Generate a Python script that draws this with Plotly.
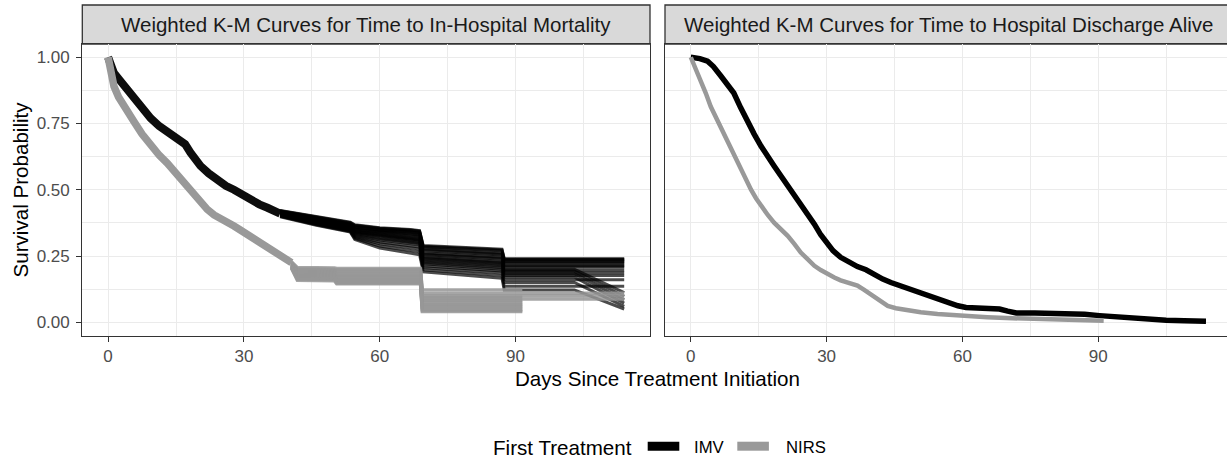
import plotly.graph_objects as go

W, H = 1227, 461
FONT = "Liberation Sans, Arial, sans-serif"

# ---------------- DATA ----------------
groups = ["IMV", "NIRS"]
group_colors = {"IMV": "#000000", "NIRS": "#999999"}
panel_titles = ["Weighted K-M Curves for Time to In-Hospital Mortality",
                "Weighted K-M Curves for Time to Hospital Discharge Alive"]
x_ticks = [0, 30, 60, 90]
x_minor = [15, 45, 75, 105]
y_ticks = [0, 0.25, 0.5, 0.75, 1.0]
y_minor = [0.125, 0.375, 0.625, 0.875]

# Left panel: IMV shared early part (all imputations overlap)
mort_imv_head_t = [0, 0.5, 1.3, 2.5, 4.2, 5.7, 7.5, 9.4, 11.3, 13.1, 14.6, 16.0, 17.0,
                   18.2, 19.3, 20.4, 22.2, 24.1, 26.0, 27.8, 29.6, 31.5, 33.4, 35.2, 36.8, 38.0]
mort_imv_head_s = [1.0, 0.965, 0.94, 0.915, 0.877, 0.85, 0.81, 0.77, 0.74, 0.718, 0.70, 0.69, 0.672,
                   0.64, 0.615, 0.59, 0.562, 0.535, 0.515, 0.50, 0.48, 0.46, 0.445, 0.432, 0.42, 0.41]
# Left panel: IMV individual curves after day 38
mort_imv_tail_t = [38, 46, 53.5, 54.5, 60, 66.8, 68.8, 69.6, 87.0, 87.5, 103, 114]
mort_imv_tails = [
    [0.422, 0.400, 0.378, 0.368, 0.357, 0.350, 0.346, 0.290, 0.276, 0.240, 0.240, 0.240],
    [0.421, 0.398, 0.376, 0.366, 0.355, 0.348, 0.344, 0.287, 0.273, 0.238, 0.238, 0.238],
    [0.420, 0.397, 0.374, 0.364, 0.354, 0.346, 0.342, 0.284, 0.270, 0.236, 0.236, 0.236],
    [0.418, 0.394, 0.370, 0.360, 0.350, 0.342, 0.338, 0.278, 0.262, 0.230, 0.230, 0.230],
    [0.417, 0.393, 0.369, 0.358, 0.348, 0.340, 0.336, 0.274, 0.258, 0.227, 0.227, 0.227],
    [0.416, 0.391, 0.367, 0.356, 0.346, 0.338, 0.333, 0.270, 0.254, 0.224, 0.224, 0.224],
    [0.414, 0.388, 0.364, 0.352, 0.342, 0.333, 0.328, 0.262, 0.246, 0.216, 0.216, 0.216],
    [0.413, 0.386, 0.362, 0.350, 0.340, 0.330, 0.325, 0.258, 0.242, 0.212, 0.212, 0.212],
    [0.412, 0.385, 0.361, 0.348, 0.338, 0.328, 0.322, 0.255, 0.238, 0.208, 0.208, 0.208],
    [0.410, 0.382, 0.358, 0.344, 0.334, 0.322, 0.316, 0.248, 0.230, 0.200, 0.200, 0.112],
    [0.409, 0.380, 0.356, 0.342, 0.330, 0.319, 0.313, 0.244, 0.226, 0.196, 0.196, 0.196],
    [0.408, 0.379, 0.355, 0.340, 0.328, 0.316, 0.310, 0.240, 0.222, 0.192, 0.192, 0.098],
    [0.407, 0.378, 0.354, 0.338, 0.325, 0.312, 0.306, 0.235, 0.217, 0.187, 0.187, 0.187],
    [0.406, 0.376, 0.352, 0.335, 0.320, 0.308, 0.302, 0.230, 0.212, 0.182, 0.182, 0.085],
    [0.405, 0.375, 0.350, 0.332, 0.315, 0.303, 0.297, 0.225, 0.206, 0.176, 0.176, 0.176],
    [0.404, 0.373, 0.348, 0.328, 0.310, 0.298, 0.292, 0.220, 0.200, 0.170, 0.170, 0.072],
    [0.402, 0.371, 0.346, 0.324, 0.303, 0.290, 0.284, 0.213, 0.193, 0.160, 0.160, 0.160],
    [0.401, 0.370, 0.344, 0.320, 0.296, 0.282, 0.276, 0.206, 0.186, 0.150, 0.150, 0.060],
    [0.400, 0.368, 0.342, 0.316, 0.288, 0.272, 0.266, 0.198, 0.176, 0.136, 0.136, 0.136],
    [0.398, 0.366, 0.340, 0.312, 0.280, 0.262, 0.255, 0.190, 0.166, 0.122, 0.122, 0.050],
]

# Left panel: NIRS shared early part
mort_nirs_head_t = [0, 0.4, 1.3, 2.3, 3.5, 4.5, 5.7, 7.5, 9.4, 11.3, 13.1, 14.6, 16.0, 17.5, 19.0,
                    20.4, 21.9, 23.4, 24.9, 26.5, 27.8, 29.2, 30.7, 32.5, 34.4, 36.2, 38.1, 39.5, 40.5]
mort_nirs_head_s = [1.0, 0.95, 0.89, 0.85, 0.814, 0.785, 0.758, 0.71, 0.664, 0.63, 0.60, 0.57, 0.54,
                    0.505, 0.476, 0.45, 0.426, 0.405, 0.388, 0.375, 0.363, 0.348, 0.332, 0.31, 0.29,
                    0.27, 0.25, 0.24, 0.225]
# Left panel: NIRS individual curves after day 40.5 (last point at each curve's end day)
mort_nirs_tail_t = [40.5, 41.8, 50.0, 50.5, 69.0, 69.4]
mort_nirs_tail_end = [114, 91.5, 114, 91.5, 114, 91.5, 91.5, 91.5, 91.5, 91.5, 91.5, 91.5, 91.5]
mort_nirs_tails = [
    [0.228, 0.207, 0.205, 0.203, 0.203, 0.110],
    [0.226, 0.202, 0.200, 0.198, 0.198, 0.122],
    [0.224, 0.198, 0.196, 0.192, 0.192, 0.100],
    [0.222, 0.194, 0.192, 0.186, 0.186, 0.095],
    [0.220, 0.190, 0.188, 0.180, 0.180, 0.088],
    [0.218, 0.186, 0.184, 0.175, 0.175, 0.082],
    [0.216, 0.182, 0.180, 0.170, 0.170, 0.075],
    [0.214, 0.178, 0.176, 0.165, 0.165, 0.068],
    [0.212, 0.174, 0.172, 0.160, 0.160, 0.062],
    [0.210, 0.170, 0.168, 0.156, 0.156, 0.056],
    [0.208, 0.166, 0.164, 0.152, 0.152, 0.050],
    [0.206, 0.162, 0.160, 0.148, 0.148, 0.044],
    [0.204, 0.158, 0.156, 0.145, 0.145, 0.040],
]

# Right panel: discharge alive
dis_imv_t = [0, 2, 3.7, 5, 6.6, 8, 9.5, 11, 12.5, 14, 15.5, 17, 18.4, 20, 21.4, 23, 24.3, 25.8,
             27.3, 28.7, 30.2, 31.4, 33.1, 35.1, 36.8, 38.7, 40.5, 42.4, 44.2, 46.1, 48, 49.8,
             51.6, 53.4, 55.2, 57.1, 59, 60.8, 64, 68.2, 70, 71.9, 76, 80, 84.4, 87, 90.3, 94,
             97.7, 101, 105, 109, 113.8]
dis_imv_s = [1.0, 0.995, 0.985, 0.965, 0.93, 0.90, 0.865, 0.81, 0.755, 0.71, 0.665, 0.63, 0.59,
             0.55, 0.515, 0.48, 0.45, 0.41, 0.37, 0.33, 0.293, 0.27, 0.245, 0.224, 0.21, 0.198,
             0.18, 0.163, 0.15, 0.138, 0.128, 0.118, 0.105, 0.094, 0.082, 0.07, 0.062, 0.056,
             0.053, 0.05, 0.042, 0.035, 0.035, 0.035, 0.034, 0.03, 0.025, 0.02, 0.015, 0.011,
             0.0075, 0.006, 0.004]
dis_nirs_t = [0, 1, 2.2, 3.3, 4.4, 5.5, 6.6, 7.7, 8.8, 9.9, 11, 12.2, 13.3, 14.4, 15.5, 17, 18.4,
              19.9, 21.4, 22.9, 24.3, 25.8, 27.3, 28.7, 30.2, 31.7, 33.1, 35, 36.8, 38.3, 39.8,
              41.6, 43.5, 45.3, 47.1, 50.8, 54.5, 60, 65.5, 71, 76.5, 84, 91.2]
dis_nirs_s = [1.0, 0.96, 0.915, 0.865, 0.814, 0.775, 0.739, 0.695, 0.652, 0.614, 0.576, 0.537,
              0.50, 0.468, 0.438, 0.405, 0.376, 0.351, 0.326, 0.295, 0.263, 0.238, 0.213, 0.197,
              0.182, 0.169, 0.158, 0.148, 0.138, 0.122, 0.106, 0.082, 0.062, 0.053, 0.047, 0.038,
              0.031, 0.024, 0.019, 0.015, 0.0125, 0.009, 0.006]

# ---------------- FIGURE ----------------
def px(x):
    return x / W

def py(y):
    return 1 - y / H

fig = go.Figure()

# Left panel IMV
for row in mort_imv_tails:
    fig.add_trace(go.Scatter(x=mort_imv_tail_t, y=row, mode="lines", xaxis="x", yaxis="y",
                             line=dict(color="rgba(0,0,0,0.7)", width=3), showlegend=False,
                             hoverinfo="skip"))
fig.add_trace(go.Scatter(x=mort_imv_head_t, y=mort_imv_head_s, mode="lines", xaxis="x", yaxis="y",
                         line=dict(color="rgba(0,0,0,0.95)", width=8), showlegend=False,
                         name="IMV"))
# Left panel NIRS
for row, end in zip(mort_nirs_tails, mort_nirs_tail_end):
    fig.add_trace(go.Scatter(x=mort_nirs_tail_t + [end], y=row + [row[-1]], mode="lines",
                             xaxis="x", yaxis="y",
                             line=dict(color="rgba(150,150,150,0.85)", width=3.4),
                             showlegend=False, hoverinfo="skip"))
fig.add_trace(go.Scatter(x=mort_nirs_head_t, y=mort_nirs_head_s, mode="lines", xaxis="x", yaxis="y",
                         line=dict(color="rgba(153,153,153,1)", width=7.5), showlegend=False,
                         name="NIRS"))

# Right panel
fig.add_trace(go.Scatter(x=dis_imv_t, y=dis_imv_s, mode="lines", xaxis="x2", yaxis="y2",
                         line=dict(color=group_colors["IMV"], width=5.5), showlegend=False,
                         name="IMV"))
fig.add_trace(go.Scatter(x=dis_nirs_t, y=dis_nirs_s, mode="lines", xaxis="x2", yaxis="y2",
                         line=dict(color=group_colors["NIRS"], width=4.5), showlegend=False,
                         name="NIRS"))

PL, PR1, PL2 = 82.3, 650.0, 665.0
PT, PB = 44.0, 335.5
xr_left = -5.7
px_per_day = (PR1 - PL) / 125.4
x2_right = (W - PL2) / px_per_day + xr_left

grid = dict(showgrid=True, gridcolor="#EBEBEB", gridwidth=1.4, zeroline=False)
minor_grid = dict(showgrid=True, gridcolor="#EBEBEB", gridwidth=0.7, ticks="")
tickstyle = dict(ticks="outside", ticklen=5, tickwidth=1.2, tickcolor="#333333",
                 tickfont=dict(family=FONT, size=17, color="#4D4D4D"))
line = dict(showline=True, linecolor="#333333", linewidth=1.3)

fig.update_layout(
    width=W, height=H,
    margin=dict(l=0, r=0, t=0, b=0),
    paper_bgcolor="white", plot_bgcolor="white",
    showlegend=False,
    xaxis=dict(domain=[px(PL), px(PR1)], range=[xr_left, 119.7], anchor="y",
               tickmode="array", tickvals=x_ticks, ticktext=[str(v) for v in x_ticks],
               minor=dict(tickmode="array", tickvals=x_minor, **minor_grid),
               mirror=True, **grid, **tickstyle, **line),
    yaxis=dict(domain=[py(PB), py(PT)], range=[-0.05, 1.05], anchor="x",
               tickmode="array", tickvals=y_ticks, tickformat=".2f",
               minor=dict(tickmode="array", tickvals=y_minor, **minor_grid),
               mirror=True, ticklabelstandoff=3, **grid, **tickstyle, **line),
    xaxis2=dict(domain=[px(PL2), 1.0], range=[xr_left, x2_right], anchor="y2",
                tickmode="array", tickvals=x_ticks, ticktext=[str(v) for v in x_ticks],
                minor=dict(tickmode="array", tickvals=x_minor, **minor_grid),
                mirror=True, **grid, **tickstyle, **line),
    yaxis2=dict(domain=[py(PB), py(PT)], range=[-0.05, 1.05], anchor="x2",
                tickmode="array", tickvals=y_ticks, showticklabels=False, ticks="",
                minor=dict(tickmode="array", tickvals=y_minor, **minor_grid),
                mirror=False, **grid, **line),
)

shapes = []
annotations = []
# Facet strips
strip_y0, strip_y1 = 5.0, PT
strips = [(PL, PR1), (PL2, PL2 + (PR1 - PL))]
for (x0, x1), title in zip(strips, panel_titles):
    shapes.append(dict(type="rect", xref="paper", yref="paper",
                       x0=px(x0), x1=px(x1), y0=py(strip_y1), y1=py(strip_y0),
                       fillcolor="#D9D9D9", line=dict(color="#333333", width=1.3), layer="below"))
    annotations.append(dict(text=title, xref="paper", yref="paper", x=px((x0 + x1) / 2),
                            y=py((strip_y0 + strip_y1) / 2), xanchor="center", yanchor="middle",
                            showarrow=False, font=dict(family=FONT, size=20.5, color="#1A1A1A")))

# Axis titles
annotations.append(dict(text="Days Since Treatment Initiation", xref="paper", yref="paper",
                        x=px(657), y=py(378), xanchor="center", yanchor="middle", showarrow=False,
                        font=dict(family=FONT, size=20.6, color="#000000")))
annotations.append(dict(text="Survival Probability", xref="paper", yref="paper", textangle=-90,
                        x=px(19.5), y=py(190), xanchor="center", yanchor="middle", showarrow=False,
                        font=dict(family=FONT, size=20.6, color="#000000")))

# Legend (bottom)
annotations.append(dict(text="First Treatment", xref="paper", yref="paper", x=px(491), y=py(447),
                        xanchor="left", yanchor="middle", showarrow=False,
                        font=dict(family=FONT, size=20.6, color="#000000")))
legend_items = [("IMV", 647.7, 692.0), ("NIRS", 737.3, 783.5)]
for name, kx, tx in legend_items:
    shapes.append(dict(type="rect", xref="paper", yref="paper", x0=px(kx), x1=px(kx + 31.6),
                       y0=py(450.7), y1=py(441.7), fillcolor=group_colors[name],
                       line=dict(width=0)))
    annotations.append(dict(text=name, xref="paper", yref="paper", x=px(tx), y=py(447),
                            xanchor="left", yanchor="middle", showarrow=False,
                            font=dict(family=FONT, size=16.7, color="#000000")))

fig.update_layout(shapes=shapes, annotations=annotations)
fig.write_html("out.html", config={"displayModeBar": False},
               post_script="document.body.style.margin='0';document.body.style.overflow='hidden';")
